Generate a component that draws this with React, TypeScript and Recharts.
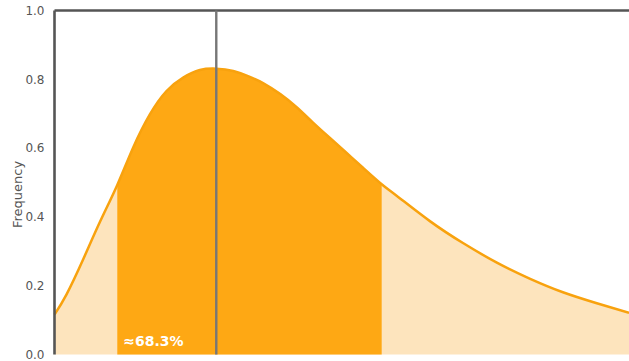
import React from "react";
import {
  ComposedChart,
  Area,
  Line,
  XAxis,
  YAxis,
  ReferenceLine,
} from "recharts";

// x positions (arbitrary units across the visible range) and curve heights
const xs = [0, 0.21, 0.5, 0.79, 1.093, 1.37, 1.66, 1.95, 2.24, 2.53, 2.816, 3.11, 3.4, 3.63, 3.93, 4.22, 4.5, 4.79, 5.09, 5.37, 5.695, 5.96, 6.54, 7.11, 7.7, 8.28, 8.85, 9.44, 10];
const freq = [0.116, 0.175, 0.277, 0.385, 0.493, 0.602, 0.698, 0.766, 0.805, 0.827, 0.831, 0.824, 0.807, 0.789, 0.757, 0.718, 0.674, 0.63, 0.585, 0.543, 0.495, 0.461, 0.387, 0.324, 0.267, 0.22, 0.181, 0.149, 0.121];
const bandStart = 1.093;
const bandEnd = 5.695;
const modeX = 2.816;
const yTicks = [0, 0.2, 0.4, 0.6, 0.8, 1.0];
const bandLabel = "≈68.3%";

const data = xs.map((x, i) => ({
  x,
  y: freq[i],
  band: x >= bandStart - 1e-9 && x <= bandEnd + 1e-9 ? freq[i] : null,
}));

const AXIS = "#555555";

export default function App() {
  return (
    <div style={{ width: 629, height: 361 }}>
      <style>{"html,body{margin:0;padding:0;overflow:hidden;}"}</style>
      <ComposedChart
        width={629}
        height={361}
        data={data}
        margin={{ top: 10.5, right: 0, bottom: 6.5, left: 0 }}
      >
        <XAxis
          dataKey="x"
          type="number"
          domain={[0, 10]}
          tick={false}
          tickLine={false}
          height={0}
          axisLine={{ stroke: AXIS, strokeWidth: 3 }}
        />
        <YAxis
          type="number"
          domain={[0, 1]}
          ticks={yTicks}
          interval={0}
          width={54.5}
          tickLine={false}
          axisLine={{ stroke: AXIS, strokeWidth: 2.6 }}
          tickFormatter={(v: number) => v.toFixed(1)}
          tick={{ fill: AXIS, fontSize: 12, fontFamily: "DejaVu Sans" }}
          tickMargin={4}
          label={({ viewBox }: any) => {
            const cx = viewBox.x + 17;
            const cy = viewBox.y + viewBox.height / 2 + 12;
            return (
              <text
                x={cx}
                y={cy}
                transform={`rotate(-90, ${cx}, ${cy})`}
                textAnchor="middle"
                dominantBaseline="central"
                fill={AXIS}
                fontSize={13}
                fontFamily="DejaVu Sans"
              >
                Frequency
              </text>
            );
          }}
        />
        <Area
          type="natural"
          dataKey="y"
          stroke="none"
          fill="#fde4bd"
          fillOpacity={1}
          isAnimationActive={false}
        />
        <Area
          type="natural"
          dataKey="band"
          stroke="none"
          fill="#fea814"
          fillOpacity={1}
          connectNulls={false}
          isAnimationActive={false}
        />
        <Line
          type="natural"
          dataKey="y"
          stroke="#f8a20e"
          strokeWidth={2.5}
          dot={false}
          activeDot={false}
          isAnimationActive={false}
        />
        <ReferenceLine y={1} stroke={AXIS} strokeWidth={2.4} />
        <ReferenceLine x={modeX} stroke="#777777" strokeWidth={2.4} />
        <ReferenceLine
          x={bandStart}
          stroke="none"
          label={({ viewBox }: any) => (
            <text
              x={viewBox.x + 6}
              y={viewBox.y + viewBox.height - 9}
              fill="#ffffff"
              fontSize={14}
              fontWeight="bold"
              fontFamily="DejaVu Sans"
            >
              {bandLabel}
            </text>
          )}
        />
      </ComposedChart>
    </div>
  );
}
